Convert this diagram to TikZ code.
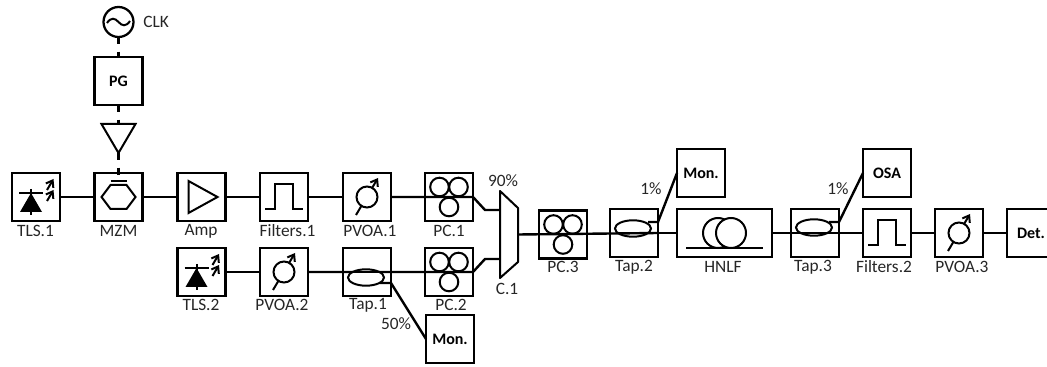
\documentclass[tikz,border=0pt]{standalone}
\usepackage{fontspec}
\setmainfont{Carlito}
\usetikzlibrary{arrows.meta}
\tikzset{
  x=0.75pt,y=-0.75pt,
  box/.style={draw,rectangle,minimum width=36pt,minimum height=36pt,inner sep=0pt,outer sep=0pt,line width=1.6pt,font=\fontsize{12pt}{14pt}\selectfont\bfseries},
  widebox/.style={box,minimum width=71.25pt},
  caption/.style={inner sep=0pt,font=\fontsize{13pt}{15pt}\selectfont,text=black!85},
  thin line/.style={line width=1.5pt},
  wire/.style={line width=1.8pt},
  dashwire/.style={line width=1.7pt,dash pattern=on 5.5pt off 5.5pt},
  iconarrow/.style={-{Straight Barb[length=4.5pt,width=6.5pt]},line width=1.5pt},
  pics/tlsicon/.style={code={
    \fill (-5,-4) -- (6,15) -- (-16,15) -- cycle;
    \draw[thin line] (-17,-4) -- (7,-4) (-5,-8) -- (-5,18);
    \draw[iconarrow] (11,-7) -- (17.5,-18);
    \draw[iconarrow] (11,4) -- (17.5,-7);
  }},
  pics/filtericon/.style={code={
    \draw[thin line] (-19,12) -- (-9,12) -- (-9,-13) -- (9,-13) -- (9,12) -- (19,12);
  }},
  pics/voaicon/.style={code={
    \draw[iconarrow] (-11,18) -- (11,-19);
    \draw[thin line,fill=white] (0,0) circle (10.5);
  }},
  pics/pcicon/.style={code={
    \draw[thin line] (-9.5,-10) circle (9.3) (9.5,-10) circle (9.3) (0,10) circle (9.3);
  }},
  pics/tapicon/.style={code={
    \draw[thin line,fill=white] (0,0) ellipse (18 and 8.2);
  }}
}
\begin{document}
\begin{tikzpicture}
\useasboundingbox (0,0) rectangle (1047,367);
% boxes row 1
\node[box] (tlsa) at (36,197) {};
\node[box] (mzm) at (118.5,197) {};
\node[box] (amp) at (201.5,197) {};
\node[box] (filta) at (284,197) {};
\node[box] (voaa) at (367,197) {};
\node[box] (pca) at (449,197) {};
% boxes row 2
\node[box] (tlsb) at (201.5,272) {};
\node[box] (voab) at (284,272) {};
\node[box] (tapa) at (367,272) {};
\node[box] (pcb) at (449,272) {};
\node[box] (mona) at (450,339) {Mon.};
% top
\node[box] (pg) at (118.5,81) {PG};
\node[draw,circle,line width=1.7pt,minimum size=22.5pt,inner sep=0pt,outer sep=0pt] (clk) at (118.5,22) {};
\coordinate (ampin) at (118.5,124);
\coordinate (ampout) at (118.5,153);
\coordinate (mzmbar) at (118.5,181);
% row 3
\node[box] (pcc) at (563,234.5) {};
\node[box] (tapb) at (634,233) {};
\node[box] (monb) at (701,173) {Mon.};
\node[widebox] (hnlf) at (724.5,233) {};
\node[box] (tapc) at (815,233) {};
\node[box] (osa) at (887,173) {OSA};
\node[box] (filtb) at (887,233) {};
\node[box] (voac) at (959,233) {};
\node[box] (det) at (1031,233) {Det.};
% coupler
\coordinate (ca) at (500,191);
\coordinate (cb) at (518,208);
\coordinate (cc) at (518,262);
\coordinate (cd) at (500,278);
\draw[thin line,line join=round] (ca) -- (cb) -- (cc) -- (cd) -- cycle;
\coordinate (cin1) at (500,210);
\coordinate (cin2) at (500,259);
\coordinate (cout) at (518,234.5);
% connectors
\draw[wire] (tlsa.east) -- (mzm.west);
\draw[wire] (mzm.east) -- (amp.west);
\draw[wire] (amp.east) -- (filta.west);
\draw[wire] (filta.east) -- (voaa.west);
\draw[wire] (voaa.east) -- (pca.east) -- (485,210) -- (cin1);
\draw[wire] (tlsb.east) -- (voab.west);
\draw[wire] (voab.east) -- (pcb.east) -- (485,259) -- (cin2);
\draw[dashwire] (clk.south) -- (pg.north);
\draw[dashwire] (pg.south) -- (ampin);
\draw[dashwire] (ampout) -- (mzmbar);
% icons
\pic at (tlsa) {tlsicon};
\pic at (tlsb) {tlsicon};
\draw[thin line,fill=white] (101.5,197) -- (110.5,185) -- (126.5,185) -- (135.5,197) -- (126.5,209) -- (110.5,209) -- cycle;
\draw[thin line] (110.5,181) -- (126.5,181);
\draw[thin line] (ampin) ++(-17,0) -- ++(34,0) -- (ampout) -- cycle;
\draw[thin line] (188.5,181) -- (217.5,197) -- (188.5,213) -- cycle;
\pic at (filta) {filtericon};
\pic at (filtb) {filtericon};
\pic at (voaa) {voaicon};
\pic at (voab) {voaicon};
\pic at (voac) {voaicon};
\pic at (pca) {pcicon};
\pic at (pcb) {pcicon};
\pic at (pcc) {pcicon};
\pic at (366,277.5) {tapicon};
\pic at (633,228.5) {tapicon};
\pic at (814,227.5) {tapicon};
\draw[wire] (voab.east) -- (pcb.west);
\draw[wire] (cout) -- (tapb.east);
\draw[wire] (tapb.east) -- (hnlf.west);
\draw[wire] (hnlf.east) -- (filtb.west);
\draw[wire] (filtb.east) -- (voac.west);
\draw[wire] (voac.east) -- (det.west);
% tap branches
\draw[wire] (380,283) -- (tapa.east |- 0,283) -- (mona.west);
\draw[wire] (648,222) -- (tapb.east |- 0,222) -- (monb.west);
\draw[wire] (829,222) -- (tapc.east |- 0,222) -- (osa.west);
% hnlf icon
\draw[thin line] (718,233) circle (15);
\draw[thin line,fill=white] (731,233) circle (15);
\draw[thin line] (686,248) -- (763,248);
% clock
\draw[thin line] (107,23) .. controls (111,17) and (115,18) .. (118.5,22) .. controls (122,26) and (126,27) .. (130,21);
% captions
\node[caption,anchor=west] (clkl) at (143,22) {CLK};
\node[caption] (l1) at (35.5,231) {TLS.1};
\node[caption] (l2) at (118.5,231) {MZM};
\node[caption] (l3) at (201,231) {Amp};
\node[caption] (l4) at (287.5,231) {Filters.1};
\node[caption] (l5) at (370,231) {PVOA.1};
\node[caption] (l6) at (449,231) {PC.1};
\node[caption] (l7) at (201,305) {TLS.2};
\node[caption] (l8) at (282,305) {PVOA.2};
\node[caption] (l9) at (368,305) {Tap.1};
\node[caption] (l10) at (451,305) {PC.2};
\node[caption] (l11) at (563,267) {PC.3};
\node[caption] (l12) at (634,267) {Tap.2};
\node[caption] (l13) at (723,267) {HNLF};
\node[caption] (l14) at (813,267) {Tap.3};
\node[caption] (l15) at (884,267) {Filters.2};
\node[caption] (l16) at (962,267) {PVOA.3};
\node[caption] (l17) at (507,289) {C.1};
\node[caption] (p1) at (503,181) {90\%};
\node[caption] (p2) at (651,189) {1\%};
\node[caption] (p3) at (396,324) {50\%};
\node[caption] (p4) at (838,189) {1\%};
\end{tikzpicture}
\end{document}
